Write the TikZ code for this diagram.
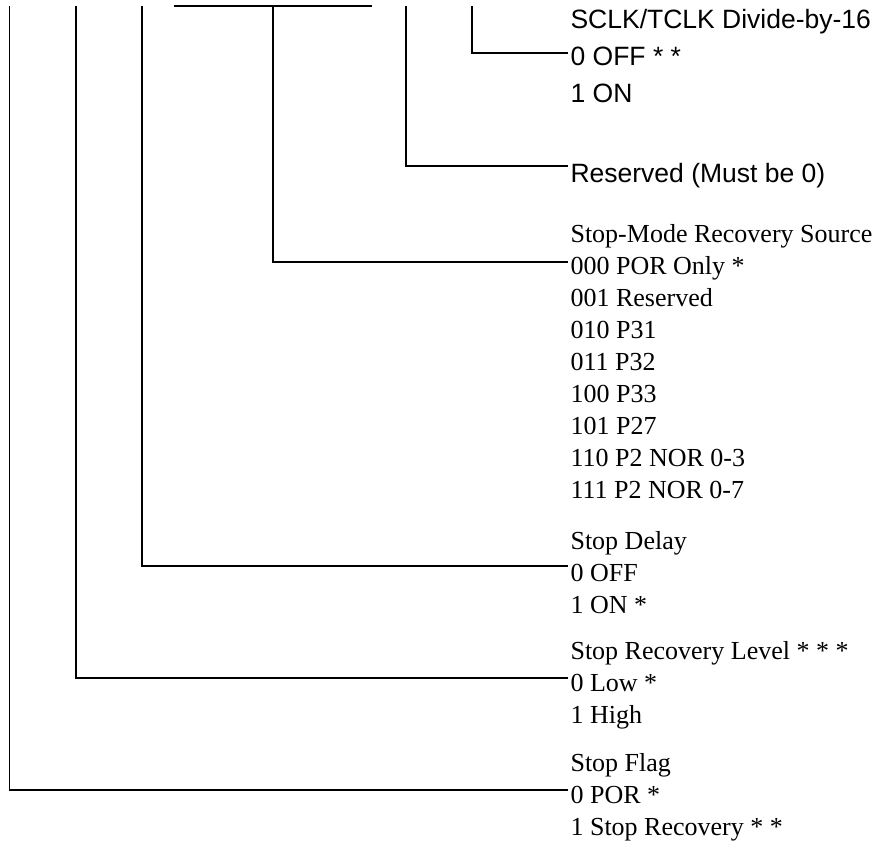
\documentclass[tikz,border=0pt]{standalone}
\usepackage{fontspec}
\setmainfont{Liberation Serif}
\newfontfamily\arialfont{Liberation Sans}

\begin{document}
\begin{tikzpicture}[x=1pt, y=-1pt, line width=1.1pt,
  field/.style={anchor=north west, align=left, inner sep=0pt,
    font=\fontsize{26}{32}\selectfont},
  sansfield/.style={field, font=\arialfont\fontsize{26.5}{37}\selectfont}]

  \useasboundingbox (0,0) rectangle (888,843);

  % bit positions on the register
  \coordinate (d7) at (9.5,6);
  \coordinate (d6) at (76,6);
  \coordinate (d5) at (142,6);
  \coordinate (d4) at (174,6);
  \coordinate (d3) at (273,6);
  \coordinate (d2) at (372,6);
  \coordinate (d1) at (406,6);
  \coordinate (d0) at (472,6);

  % line ends in front of the texts
  \coordinate (e0) at (568,53);
  \coordinate (e1) at (568,166);
  \coordinate (e3) at (568,262);
  \coordinate (e5) at (568,566);
  \coordinate (e6) at (568,678);
  \coordinate (e7) at (568,790);

  \node[sansfield] (sclk) at (570,1.6) {\strut SCLK/TCLK Divide-by-16\\0 OFF * *\\1 ON};
  \node[sansfield] (rsvd) at (570,155.6) {\strut Reserved (Must be 0)};
  \node[field] (smr) at (570,220) {\strut Stop-Mode Recovery Source\\000 POR Only *\\001 Reserved\\010 P31\\011 P32\\100 P33\\101 P27\\110 P2 NOR 0-3\\111 P2 NOR 0-7};
  \node[field] (sdly) at (570,527) {\strut Stop Delay\\0 OFF\\1 ON *};
  \node[field] (srl) at (570,637) {\strut Stop Recovery Level * * *\\0 Low *\\1 High};
  \node[field] (sflag) at (570,749) {\strut Stop Flag\\0 POR *\\1 Stop Recovery * *};

  \draw (d0) |- (e0);
  \draw (d1) |- (e1);
  \draw (d4) -- (d2);
  \draw (d3) |- (e3);
  \draw (d5) |- (e5);
  \draw (d6) |- (e6);
  \draw (d7) |- (e7);

\end{tikzpicture}
\end{document}
